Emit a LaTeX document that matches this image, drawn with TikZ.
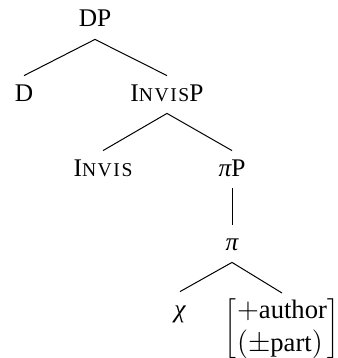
\documentclass[tikz,border=0pt]{standalone}
\usepackage{fontspec}
\setmainfont{Liberation Serif}
\newcommand\smcap[1]{{\fontsize{9.8}{11}\selectfont\addfontfeature{LetterSpace=8}#1}}% fake small caps

\begin{document}
\begin{tikzpicture}[x=0.5pt,y=-0.5pt]
  \tikzset{
    cat/.style={anchor=base,font=\fontsize{12.7}{15}\selectfont,
      inner sep=4pt,text height=8.5pt,text depth=2pt},
    feat/.style={anchor=north,font=\fontsize{13.3}{16.5}\selectfont,inner sep=1pt},
    branch/.style={line width=0.5pt},
  }
  \useasboundingbox (0,0) rectangle (337,358);
  \node [cat]  (dp)     at (95,27)   {DP};
  \node [cat]  (d)      at (24,101)  {D};
  \node [cat]  (invisp) at (167,101) {I\smcap{NVIS}P};
  \node [cat]  (invis)  at (103,176) {I\smcap{NVIS}};
  \node [cat]  (pip)    at (232,176) {{\itshape π}P};
  \node [cat]  (pi)     at (232,250) {\itshape π};
  \node [cat]  (chi)    at (180,317) {\itshape χ};
  \node [feat] (phi)    at (282,293)
    {$\left[\begin{array}{@{\hspace{0.5pt}}l@{\hspace{0.5pt}}}+\mbox{author}\\(\pm\mbox{part})\end{array}\right]$};

  \draw [branch] (dp.south) -- (d.north);
  \draw [branch] (dp.south) -- (invisp.north);
  \draw [branch] (invisp.south) -- (invis.north);
  \draw [branch] (invisp.south) -- (pip.north);
  \draw [branch] (pip.south) -- (pi.north);
  \draw [branch] (pi.south) -- (chi.north);
  \draw [branch] (pi.south) -- (phi.north);
\end{tikzpicture}
\end{document}
